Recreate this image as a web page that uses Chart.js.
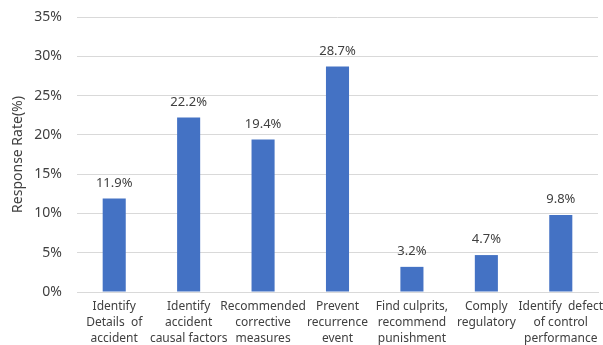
<!DOCTYPE html>
<html>
<head>
<meta charset="utf-8">
<script src="https://cdn.jsdelivr.net/npm/chart.js@4"></script>
<style>
  html, body { margin: 0; padding: 0; background: #fff; }
  #wrap { width: 603px; height: 345px; }
</style>
</head>
<body>
<div id="wrap"><canvas id="myChart"></canvas></div>
<script>
// categorias (multilinea) y valores
const categories = [
    ['Identify', 'Details  of', 'accident'],
    ['Identify', 'accident', 'causal factors'],
    ['Recommended', 'corrective', 'measures'],
    ['Prevent', 'recurrence', 'event'],
    ['Find culprits,', 'recommend', 'punishment'],
    ['Comply', 'regulatory'],
    ['Identify  defect', 'of control', 'performance']
];
const responseRate = [11.9, 22.2, 19.4, 28.7, 3.2, 4.7, 9.8];
const yTicks = [0, 5, 10, 15, 20, 25, 30, 35];

const fontFamily = "'Noto Sans', 'DejaVu Sans', sans-serif";

// etiquetas encima de las barras
const barLabels = {
    id: 'barLabels',
    afterDatasetsDraw(chart) {
        const ctx = chart.ctx;
        const meta = chart.getDatasetMeta(0);
        ctx.save();
        ctx.font = '13px ' + fontFamily;
        ctx.fillStyle = '#404040';
        ctx.textAlign = 'center';
        ctx.textBaseline = 'bottom';
        meta.data.forEach((bar, i) => {
            ctx.fillText(responseRate[i].toFixed(1) + '%', bar.x, bar.y - 9);
        });
        ctx.restore();
    }
};

const ctx = document.getElementById('myChart').getContext('2d');
const myChart = new Chart(ctx, {
    type: 'bar',
    data: {
        labels: categories,
        datasets: [{
            data: responseRate,
            backgroundColor: '#4472C4',
            borderWidth: 0,
            barPercentage: 0.31,
            categoryPercentage: 1.0
        }]
    },
    options: {
        responsive: true,
        maintainAspectRatio: false,
        animation: false,
        layout: { padding: { top: 17, right: 0, left: 0, bottom: 0 } },
        plugins: {
            legend: { display: false },
            tooltip: { enabled: false }
        },
        scales: {
            x: {
                grid: { display: false, drawTicks: false },
                border: { color: '#d9d9d9', width: 1 },
                ticks: {
                    color: '#404040',
                    font: { family: fontFamily, size: 12, lineHeight: 1.33 },
                    maxRotation: 0,
                    autoSkip: false,
                    padding: 7
                },
                // que las etiquetas no encojan el area del grafico
                afterFit: axis => { axis.paddingRight = 5; axis.paddingLeft = 0; axis.height = 53; }
            },
            y: {
                min: 0,
                max: 35,
                afterBuildTicks: axis => { axis.ticks = yTicks.map(v => ({ value: v })); },
                afterFit: axis => { axis.width = 77; axis.paddingTop = 0; axis.paddingBottom = 0; },
                grid: { color: '#d9d9d9', drawTicks: false },
                border: { display: false },
                ticks: {
                    color: '#404040',
                    font: { family: fontFamily, size: 14 },
                    padding: 15,
                    callback: v => v + '%'
                },
                title: {
                    display: true,
                    text: 'Response Rate(%)',
                    color: '#404040',
                    font: { family: fontFamily, size: 14 },
                    padding: { top: 10, bottom: 0 }
                }
            }
        }
    },
    plugins: [barLabels]
});
</script>
</body>
</html>
